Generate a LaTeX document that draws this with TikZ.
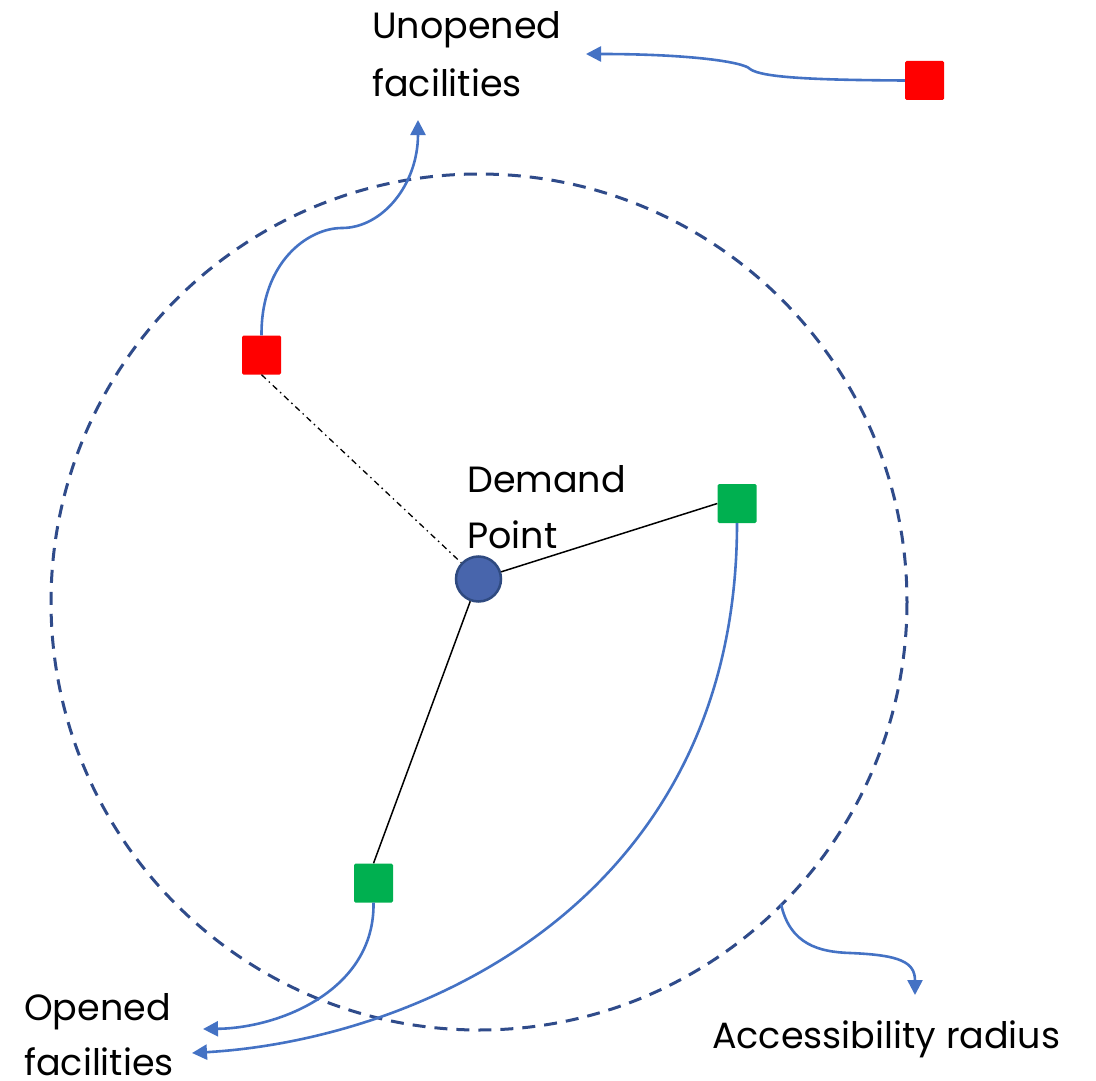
\documentclass[tikz,border=0pt]{standalone}
\usepackage{fontspec}
\setmainfont{Poppins}
\usetikzlibrary{arrows.meta}
\definecolor{arrowblue}{RGB}{68,114,196}
\definecolor{ringblue}{RGB}{47,75,138}
\definecolor{dotfill}{RGB}{72,101,172}
\definecolor{dotdraw}{RGB}{47,74,128}
\definecolor{facred}{RGB}{255,0,0}
\definecolor{facgreen}{RGB}{0,176,80}
\begin{document}
\begin{tikzpicture}[x=1pt,y=-1pt,
  fac/.style={rectangle,minimum size=39pt,inner sep=0pt,rounded corners=1.5pt,draw=none},
  unopen/.style={fac,fill=facred},
  opened/.style={fac,fill=facgreen},
  pointer/.style={draw=arrowblue,line width=2.6pt,-{Triangle[length=15pt,width=15pt]}},
  link/.style={draw=black,line width=1.5pt},
  label/.style={anchor=base west,inner sep=0pt,font=\fontsize{36.5}{42}\selectfont}
]
\useasboundingbox (0,0) rectangle (1096,1081);
% accessibility ring
\coordinate (ctr) at (479,602);
\draw[ringblue,line width=3pt,dash pattern=on 13pt off 9pt] (ctr) circle (428);
\coordinate (ringpt) at (781,904);
% facilities
\node[unopen] (r1) at (261.5,355) {};
\node[unopen] (r2) at (924.5,80.5) {};
\node[opened] (g1) at (737,503.5) {};
\node[opened] (g2) at (373.5,883) {};
% demand point
\node[circle,minimum size=45pt,inner sep=0pt,fill=dotfill,draw=dotdraw,line width=2.5pt] (dp) at (478.5,579) {};
% links
\draw[link,line width=1.3pt,dash pattern=on 6pt off 4pt on 1.5pt off 4pt] (r1.south) -- (dp);
\draw[link] (dp) -- (g1.west);
\draw[link] (dp) -- (g2.north);
% labels
\node[label] (t1) at (372,39) {Unopened};
\node[label] (t2) at (372,96) {facilities};
\node[label] (t3) at (467,492) {Demand};
\node[label] (t4) at (467,548) {Point};
\node[label] (t5) at (24,1020) {Opened};
\node[label] (t6) at (24,1075) {facilities};
\node[label] (t7) at (712,1048) {Accessibility radius};
% arrow end points
\coordinate (e1) at (418,120);
\coordinate (e2) at (586,54);
\coordinate (e3) at (192,1053);
\coordinate (e4) at (203,1029);
\coordinate (e5) at (915,995);
% pointers
\draw[pointer] (r1.north) .. controls (261,262) and (308,228) .. (342,228) .. controls (382,228) and (418,185) .. (e1);
\draw[pointer] (r2.west) .. controls (820,80) and (762,78) .. (750,69) .. controls (744,62) and (690,54) .. (e2);
\draw[pointer] (g1.south) .. controls (737,900) and (420,1040) .. (e3);
\draw[pointer] (g2.south) .. controls (375,990) and (280,1028) .. (e4);
\draw[pointer] (ringpt) .. controls (790,945) and (820,952) .. (850,953) .. controls (900,955) and (915,962) .. (e5);
\end{tikzpicture}
\end{document}
